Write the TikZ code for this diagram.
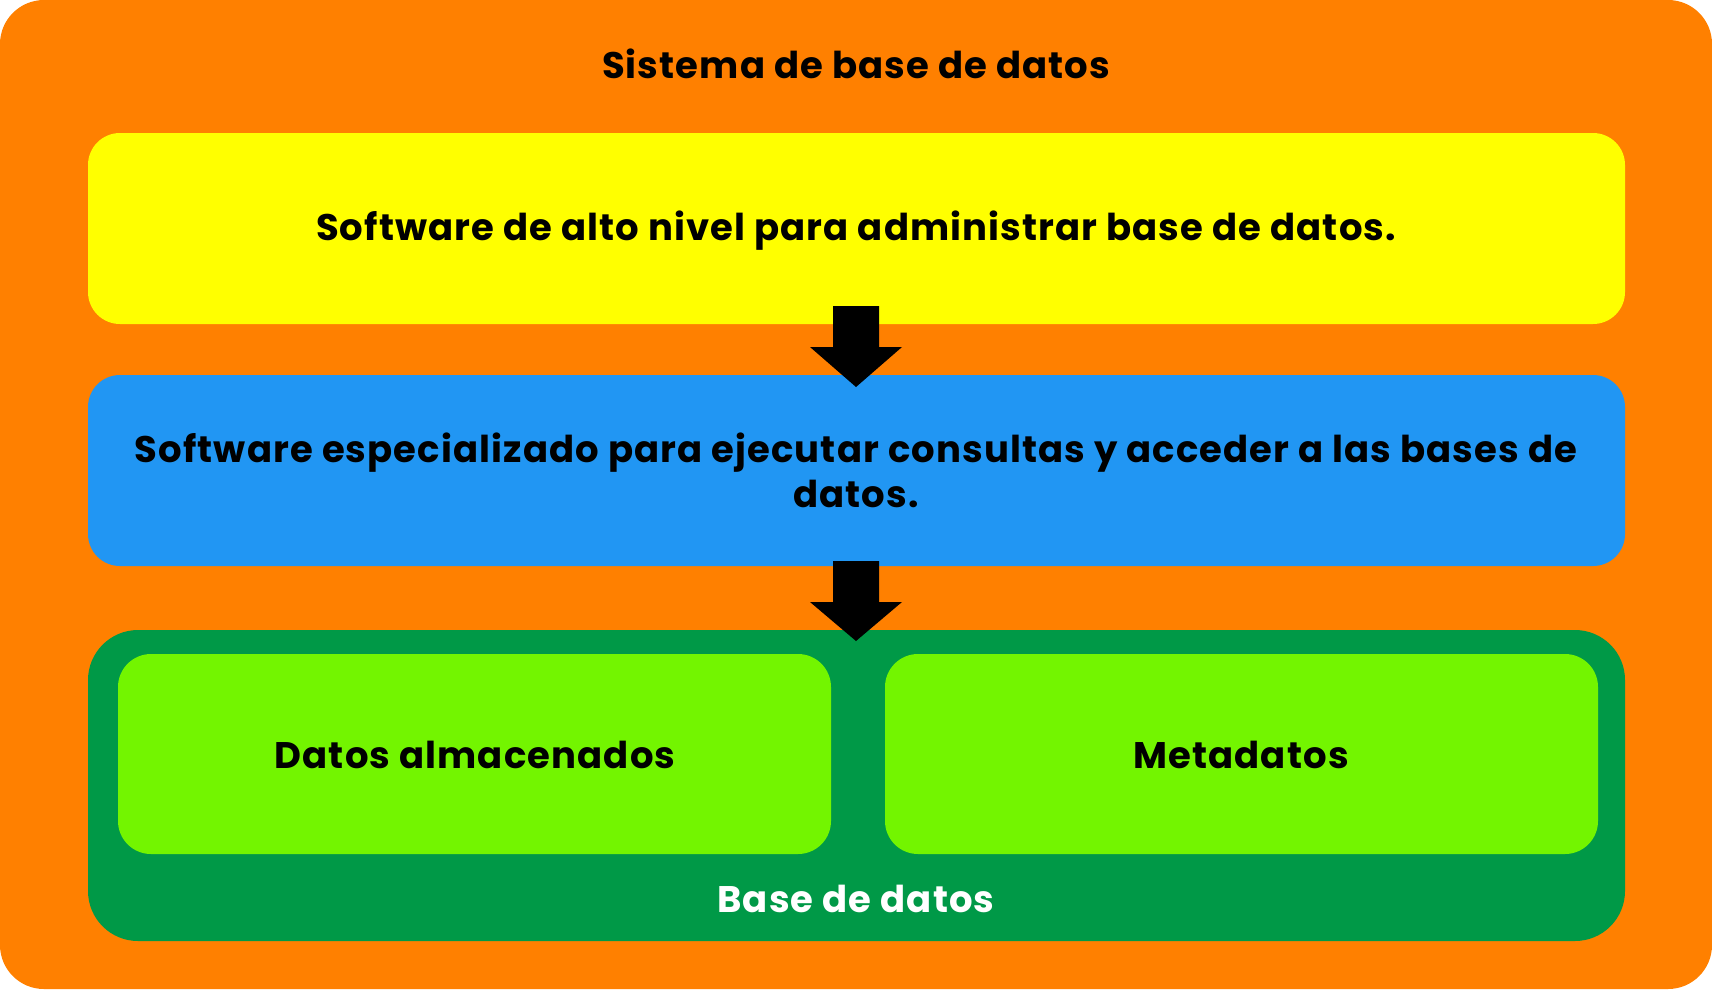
\documentclass[tikz,border=0pt]{standalone}
\usepackage{fontspec}
\setmainfont{Poppins}[BoldFont={* Bold}, LetterSpace=3]
\definecolor{orng}{RGB}{255,128,0}
\definecolor{yel}{RGB}{255,255,0}
\definecolor{blu}{RGB}{33,150,243}
\definecolor{dgrn}{RGB}{0,153,71}
\definecolor{lgrn}{RGB}{115,245,0}
\tikzset{
  box/.style={rounded corners=#1},
  lbl/.style={font=\fontsize{37}{45}\selectfont\bfseries, text=black, align=center, inner sep=0pt},
  bigarrow/.style={fill=black}
}
\begin{document}
\begin{tikzpicture}[x=1pt,y=-1pt]
\useasboundingbox (0,0) rectangle (1712,989);
\fill[orng,box=44] (0,0) rectangle (1712,989);
\node[lbl] (title) at (856,64) {Sistema de base de datos};
\fill[yel,box=32] (88,133) rectangle (1625,324);
\node[lbl] (top) at (856,231) {Software de alto nivel para administrar base de datos.};
\fill[blu,box=32] (88,375) rectangle (1625,566);
\node[lbl] (mid) at (856,470) {Software especializado para ejecutar consultas y acceder a las bases de\\datos.};
\fill[dgrn,box=50] (88,630) rectangle (1625,941);
\fill[lgrn,box=33] (118,654) rectangle (831,854);
\fill[lgrn,box=33] (885,654) rectangle (1598,854);
\node[lbl] (stored) at (475,755) {Datos almacenados};
\node[lbl] (meta) at (1241,755) {Metadatos};
\node[lbl, text=white] (db) at (856,899) {Base de datos};
\fill[bigarrow] (833,306) -- (879,306) -- (879,347) -- (902,347) -- (856,387) -- (810,347) -- (833,347) -- cycle;
\fill[bigarrow] (833,561) -- (879,561) -- (879,602) -- (902,602) -- (856,641) -- (810,602) -- (833,602) -- cycle;
\end{tikzpicture}
\end{document}
